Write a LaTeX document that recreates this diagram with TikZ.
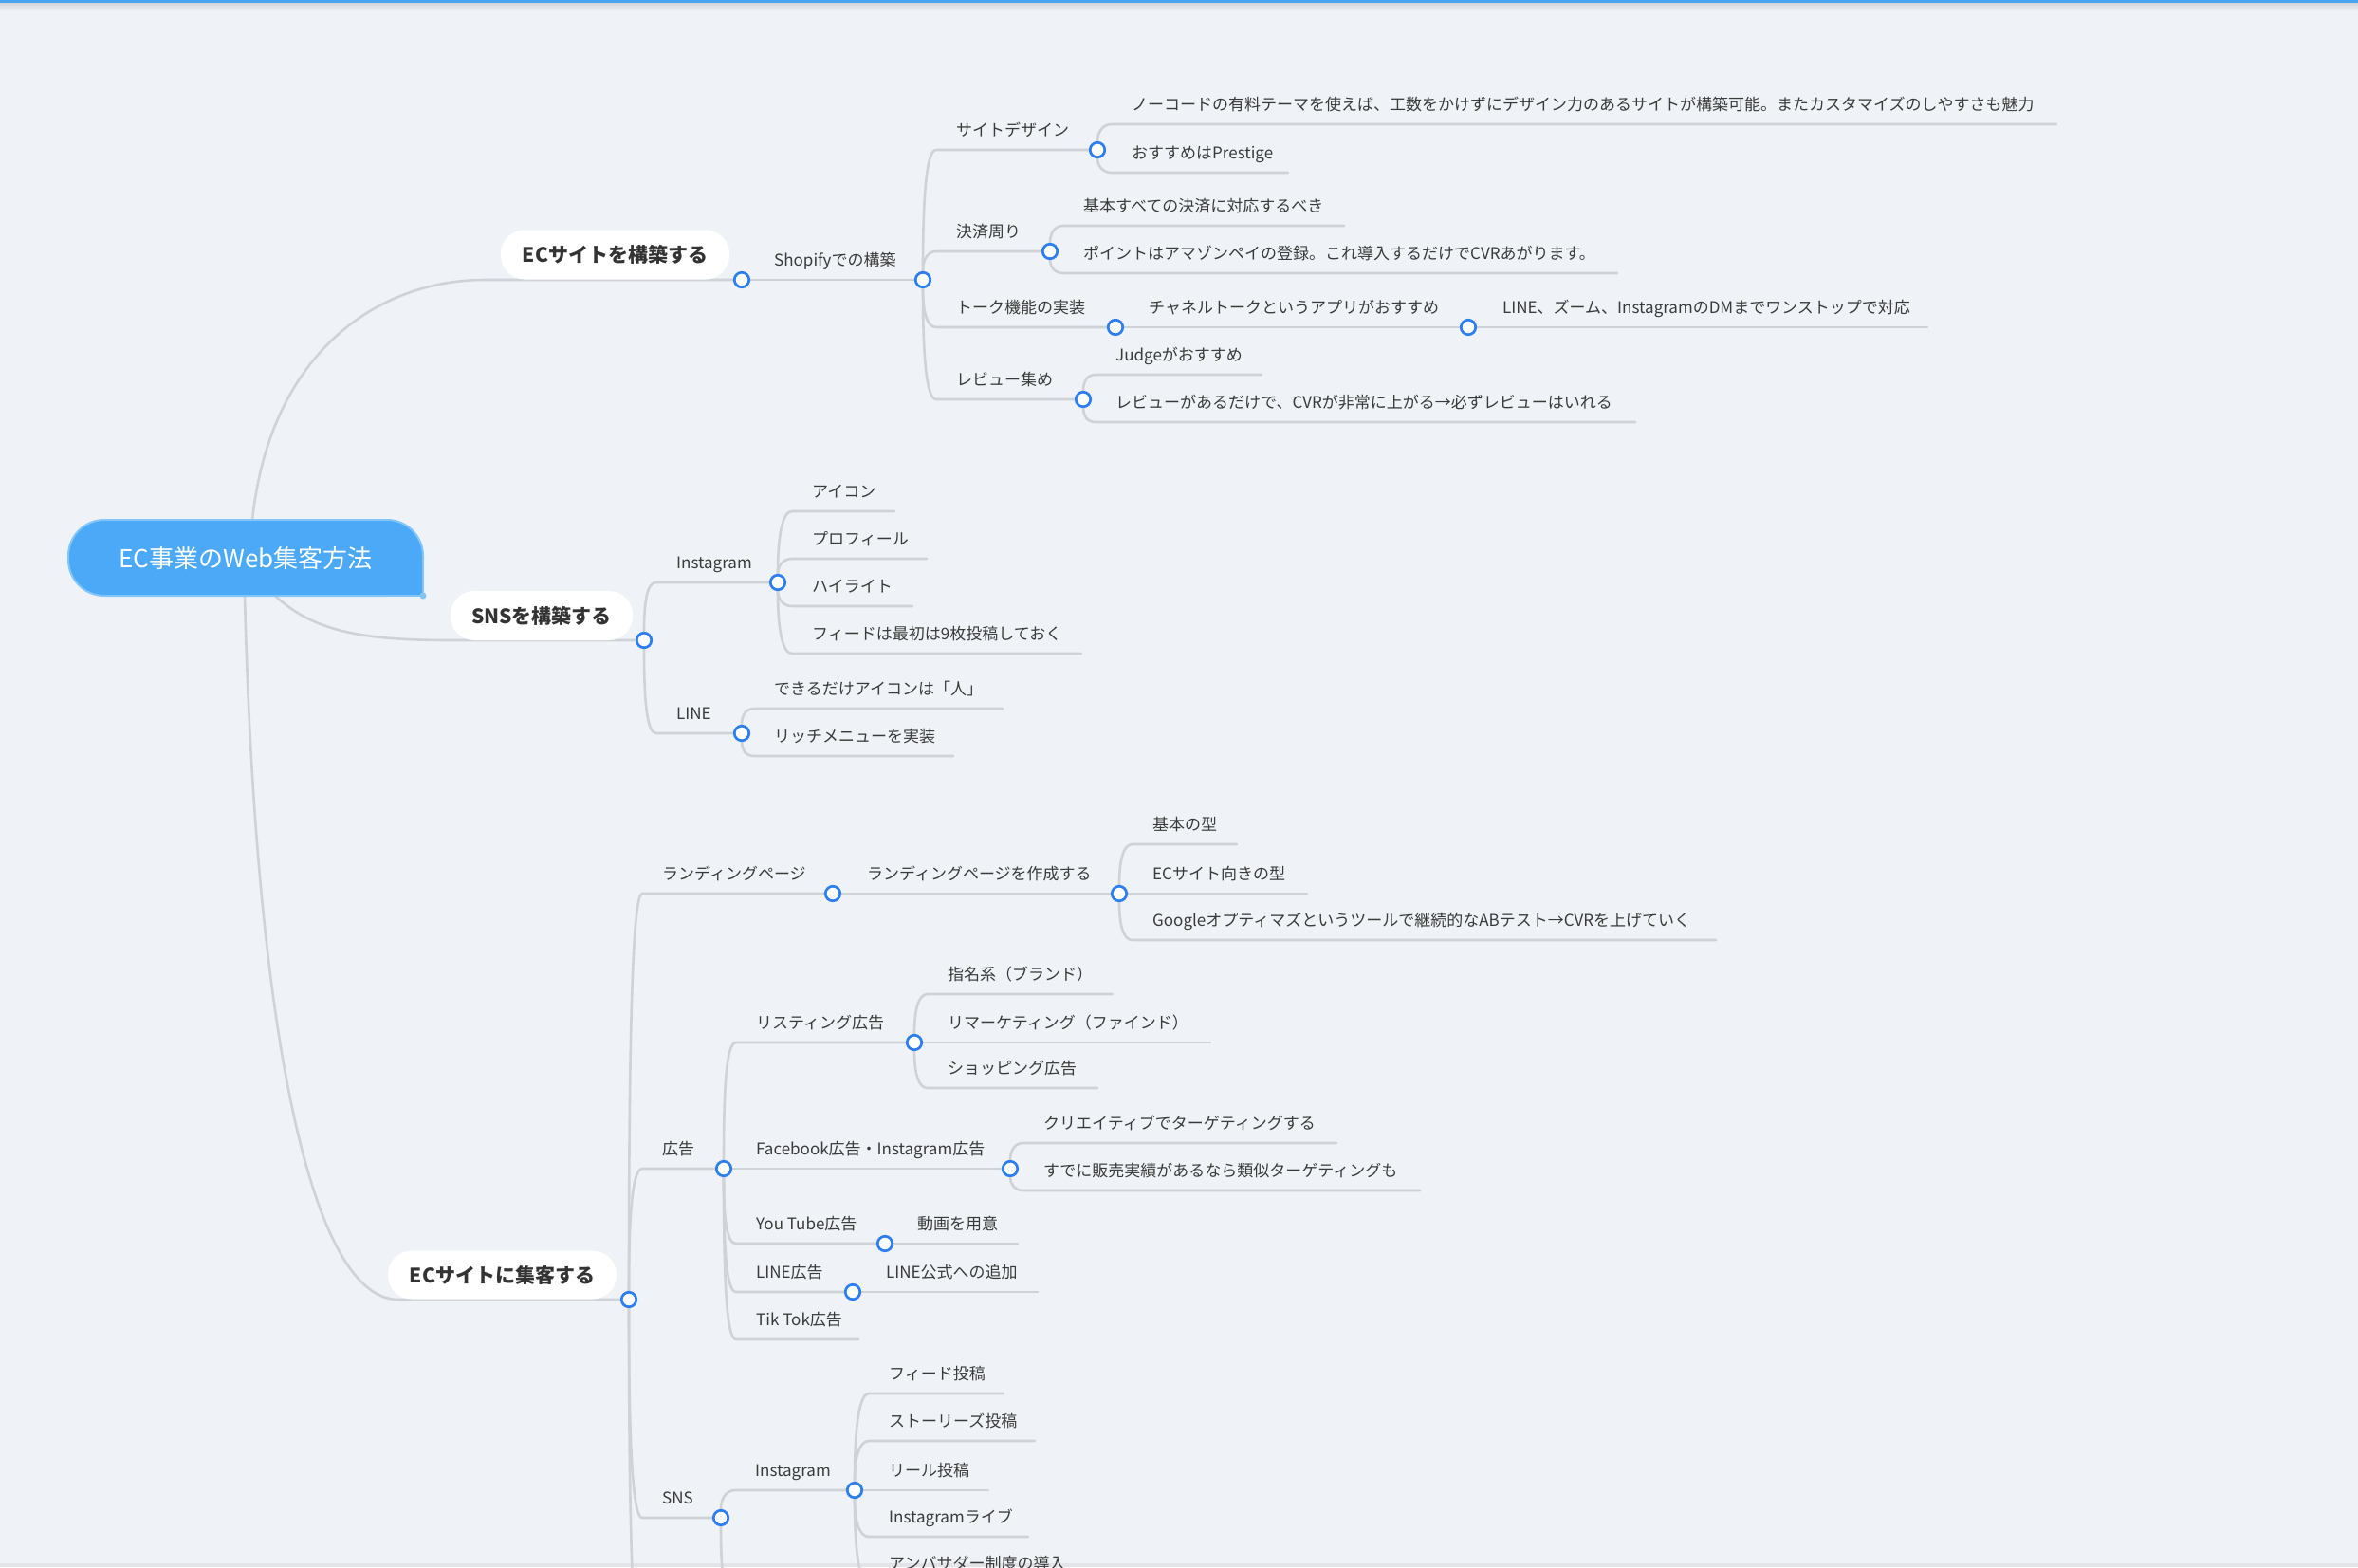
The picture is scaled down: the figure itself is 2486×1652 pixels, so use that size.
\documentclass[tikz,border=0pt]{standalone}
\usepackage{fontspec}
\setmainfont{Noto Sans CJK JP}
\usetikzlibrary{calc}
\pgfdeclarelayer{back}
\pgfdeclarelayer{bg}
\pgfsetlayers{back,bg,main}
\definecolor{bgc}{HTML}{EFF3F7}
\definecolor{lnc}{HTML}{CFD3D8}
\definecolor{dotc}{HTML}{2D7FF0}
\definecolor{txtc}{HTML}{3A3A3A}
\definecolor{pillc}{HTML}{333333}
\definecolor{rootc}{HTML}{4BA9F7}
\definecolor{rootb}{HTML}{82C5FB}
\definecolor{topc}{HTML}{4AA3F0}
\tikzset{
  ln/.style={draw=lnc, line width=2.6pt, line cap=round},
  dot/.style={circle, draw=dotc, fill=white, line width=2.7pt, minimum size=15.5pt, inner sep=0pt},
  txt/.style={anchor=west, inner sep=0pt, text=txtc, font=\fontsize{17}{17}\selectfont, text height=15pt, text depth=2pt},
  pill/.style={fill=white, rounded corners=25pt, inner sep=0pt, text=pillc, font=\fontsize{21}{21}\selectfont\bfseries, text height=18.5pt, text depth=2.5pt},
  rootnode/.style={fill=rootc, draw=rootb, line width=2pt, rounded corners=38pt, minimum width=374pt, minimum height=80pt, inner sep=0pt, outer sep=0pt, text=white, font=\fontsize{26}{26}\selectfont, text height=23pt, text depth=3pt}
}
% child connected by a curved (quadratic) branch
\newcommand\Kid[6]{%
  \node[txt] (#2) at (#3,#4-21) {#6};
  \coordinate (#2e) at (#5,#4);
  \begin{pgfonlayer}{bg}
    \draw[ln] (#1) .. controls ($(#1)!0.6667!(#1 |- #2e)$) and (#3-31,#4) .. (#3-21,#4) -- (#2e);
  \end{pgfonlayer}
}
% child on the same level as its parent
\newcommand\KidS[6]{%
  \node[txt] (#2) at (#3,#4-21) {#6};
  \coordinate (#2e) at (#5,#4);
  \begin{pgfonlayer}{bg}
    \draw[ln] (#1) -- (#2e);
  \end{pgfonlayer}
}
\newcommand\Knob[1]{\node[dot] (#1c) at (#1e) {};}
\begin{document}
\begin{tikzpicture}[x=1pt, y=-1pt]
\useasboundingbox (0,0) rectangle (2486,1652);
\begin{pgfonlayer}{back}
  \fill[bgc] (0,0) rectangle (2486,1652);
  \shade[top color=black!12!bgc, bottom color=bgc] (0,3) rectangle (2486,12);
  \fill[topc] (0,0) rectangle (2486,3);
  \fill[black!6!bgc] (0,1648) rectangle (2486,1652);
\end{pgfonlayer}

% root
\node[rootnode] (root) at (259,588) {EC事業のWeb集客方法};
\fill[rootc] ([xshift=-40pt,yshift=40pt]root.south east) rectangle (root.south east);
\draw[rootb, line width=2pt] ([yshift=40pt]root.south east) -- (root.south east) -- ([xshift=-40pt]root.south east);
\fill[rootb] (root.south east) circle (3.5pt);

% ===== branch A =====
\node[pill, minimum width=241pt, minimum height=52pt] (pA) at (648.5,268.5) {ECサイトを構築する};
\node[dot] (cA) at (782,295) {};
\begin{pgfonlayer}{bg}
  \draw[ln] ([xshift=7pt]root.north) .. controls (285,370) and (400,295) .. (511,295) -- (cA);
\end{pgfonlayer}
\KidS{cA}{shop}{816}{295}{973}{Shopifyでの構築}\Knob{shop}
\Kid{shopc}{sd}{1008}{158}{1157}{サイトデザイン}\Knob{sd}
\Kid{sdc}{sda}{1193}{131}{2168}{ノーコードの有料テーマを使えば、工数をかけずにデザイン力のあるサイトが構築可能。またカスタマイズのしやすさも魅力}
\Kid{sdc}{sdb}{1193}{182}{1358}{おすすめはPrestige}
\Kid{shopc}{ks}{1008}{265}{1107}{決済周り}\Knob{ks}
\Kid{ksc}{ksa}{1142}{238}{1417}{基本すべての決済に対応するべき}
\Kid{ksc}{ksb}{1142}{288}{1705}{ポイントはアマゾンペイの登録。これ導入するだけでCVRあがります。}
\Kid{shopc}{tk}{1008}{345}{1176}{トーク機能の実装}\Knob{tk}
\KidS{tkc}{tka}{1211}{345}{1548}{チャネルトークというアプリがおすすめ}\Knob{tka}
\KidS{tkac}{tkb}{1584}{345}{2032}{LINE、ズーム、InstagramのDMまでワンストップで対応}
\Kid{shopc}{rv}{1008}{421}{1142}{レビュー集め}\Knob{rv}
\Kid{rvc}{rva}{1176}{395}{1330}{Judgeがおすすめ}
\Kid{rvc}{rvb}{1176}{445}{1724}{レビューがあるだけで、CVRが非常に上がる→必ずレビューはいれる}

% ===== branch B =====
\node[pill, minimum width=192pt, minimum height=52pt] (pB) at (571,649) {SNSを構築する};
\node[dot] (cB) at (679,675) {};
\begin{pgfonlayer}{bg}
  \draw[ln] ([xshift=31pt]root.south) .. controls (330,665) and (380,675) .. (475,675) -- (cB);
\end{pgfonlayer}
\Kid{cB}{ig}{713}{614}{820}{Instagram}\Knob{ig}
\Kid{igc}{iga}{856}{539}{943}{アイコン}
\Kid{igc}{igb}{856}{589}{977}{プロフィール}
\Kid{igc}{igd}{856}{639}{962}{ハイライト}
\Kid{igc}{ige}{856}{689}{1140}{フィードは最初は9枚投稿しておく}
\Kid{cB}{li}{713}{773}{782}{LINE}\Knob{li}
\Kid{lic}{lia}{816}{747}{1057}{できるだけアイコンは「人」}
\Kid{lic}{lib}{816}{797}{1005}{リッチメニューを実装}

% ===== branch C =====
\node[pill, minimum width=241pt, minimum height=51pt] (pC) at (529.5,1344) {ECサイトに集客する};
\node[dot] (cC) at (663,1370) {};
\begin{pgfonlayer}{bg}
  \draw[ln] ([xshift=-1pt]root.south) .. controls (270,1100) and (330,1370) .. (420,1370) -- (cC);
\end{pgfonlayer}
\Kid{cC}{lp}{698}{942}{878}{ランディングページ}\Knob{lp}
\KidS{lpc}{lpx}{914}{942}{1180}{ランディングページを作成する}\Knob{lpx}
\Kid{lpxc}{lpa}{1215}{890}{1304}{基本の型}
\KidS{lpxc}{lpb}{1215}{942}{1378}{ECサイト向きの型}
\Kid{lpxc}{lpd}{1215}{991}{1809}{Googleオプティマズというツールで継続的なABテスト→CVRを上げていく}
\Kid{cC}{ad}{698}{1232}{763}{広告}\Knob{ad}
\Kid{adc}{ls}{797}{1099}{964}{リスティング広告}\Knob{ls}
\Kid{lsc}{lsa}{999}{1048}{1173}{指名系（ブランド）}
\KidS{lsc}{lsb}{999}{1099}{1276}{リマーケティング（ファインド）}
\Kid{lsc}{lsd}{999}{1147}{1157}{ショッピング広告}
\KidS{adc}{fb}{797}{1232}{1065}{Facebook広告・Instagram広告}\Knob{fb}
\Kid{fbc}{fba}{1100}{1205}{1409}{クリエイティブでターゲティングする}
\Kid{fbc}{fbb}{1100}{1255}{1497}{すでに販売実績があるなら類似ターゲティングも}
\Kid{adc}{yt}{797}{1311}{933}{You Tube広告}\Knob{yt}
\KidS{ytc}{yta}{967}{1311}{1073}{動画を用意}
\Kid{adc}{la}{797}{1362}{899}{LINE広告}\Knob{la}
\KidS{lac}{laa}{934}{1362}{1094}{LINE公式への追加}
\Kid{adc}{tt}{797}{1412}{905}{Tik Tok広告}
\Kid{cC}{sn}{698}{1600}{760}{SNS}\Knob{sn}
\Kid{snc}{si}{796}{1571}{901}{Instagram}\Knob{si}
\Kid{sic}{sia}{937}{1469}{1058}{フィード投稿}
\Kid{sic}{sib}{937}{1519}{1091}{ストーリーズ投稿}
\KidS{sic}{sid}{937}{1571}{1042}{リール投稿}
\Kid{sic}{sie}{937}{1620}{1084}{Instagramライブ}
\Kid{sic}{sif}{937}{1669}{1120}{アンバサダー制度の導入}
% branches continuing below the visible area
\coordinate (offC) at (678,1760);
\coordinate (offS) at (775,1700);
\begin{pgfonlayer}{bg}
  \draw[ln] (cC) .. controls ($(cC)!0.6667!(cC |- offC)$) and (668,1760) .. (offC);
  \draw[ln] (snc) .. controls ($(snc)!0.6667!(snc |- offS)$) and (765,1700) .. (offS);
\end{pgfonlayer}
\end{tikzpicture}
\end{document}
